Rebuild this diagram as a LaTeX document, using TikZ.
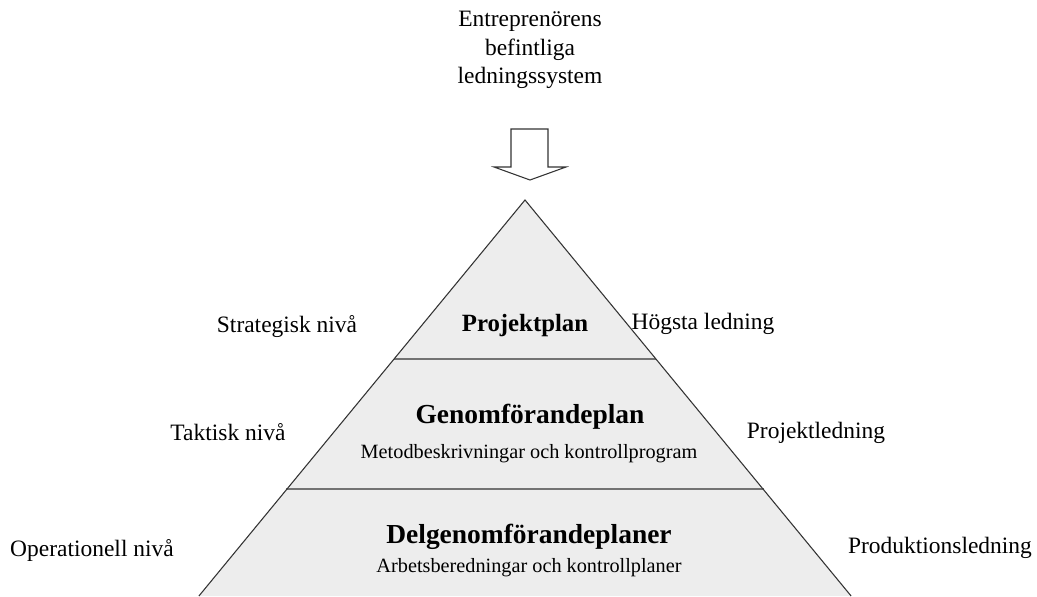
\documentclass[tikz,border=0pt]{standalone}
\usepackage{fontspec}
\setmainfont{Liberation Serif}
\begin{document}
\begin{tikzpicture}[x=0.75pt,y=-0.75pt,
  lbl/.style={font=\fontsize{17.6}{21}\selectfont, inner sep=0pt},
  head/.style={font=\fontsize{20.6}{24}\selectfont\bfseries, inner sep=0pt},
  sub/.style={font=\fontsize{15.2}{18}\selectfont, inner sep=0pt},
  edge/.style={draw=black!80, line width=0.8pt},
  divider/.style={draw=black!55, line width=1.3pt}]
\useasboundingbox (0,0) rectangle (1037,596);
\clip (0,0) rectangle (1037,596);

% pyramid corners (base lies below the page edge)
\coordinate (apex) at (525,200);
\coordinate (bl) at (198.9,596);
\coordinate (br) at (851.1,596);
\coordinate (d1l) at (393.7,359);
\coordinate (d1r) at (656.3,359);
\coordinate (d2l) at (286.3,489);
\coordinate (d2r) at (763.7,489);

\fill[black!7] (apex) -- (bl) -- (br) -- cycle;
\draw[divider] (d1l) -- (d1r);
\draw[divider] (d2l) -- (d2r);
\draw[edge] (bl) -- (apex) -- (br);

% input from the existing management systems
\node[lbl, align=center, font=\fontsize{17.6}{21.2}\selectfont] (src) at (530,50)
  {Entreprenörens\\befintliga\\ledningssystem};
\draw[black!80, line width=0.8pt, fill=white]
  (511,129) -- (548,129) -- (548,167) -- (566,167) -- (530,180)
  -- (494,167) -- (511,167) -- cycle;

% levels of the pyramid
\node[head, font=\fontsize{18.6}{22}\selectfont\bfseries] (pp) at (525,326) {Projektplan};
\node[head] (gp) at (530,417) {Genomförandeplan};
\node[sub] (gps) at (529,454) {Metodbeskrivningar och kontrollprogram};
\node[head] (dgp) at (529,537) {Delgenomförandeplaner};
\node[sub] (dgps) at (529,568) {Arbetsberedningar och kontrollplaner};

% planning levels on the left
\node[lbl] (strat) at (287,327) {Strategisk nivå};
\node[lbl] (takt) at (228,432) {Taktisk nivå};
\node[lbl] (oper) at (92,550) {Operationell nivå};

% responsible management on the right
\node[lbl] (hl) at (703,324) {Högsta ledning};
\node[lbl] (pl) at (816,433) {Projektledning};
\node[lbl] (prl) at (940,548) {Produktionsledning};
\end{tikzpicture}
\end{document}
